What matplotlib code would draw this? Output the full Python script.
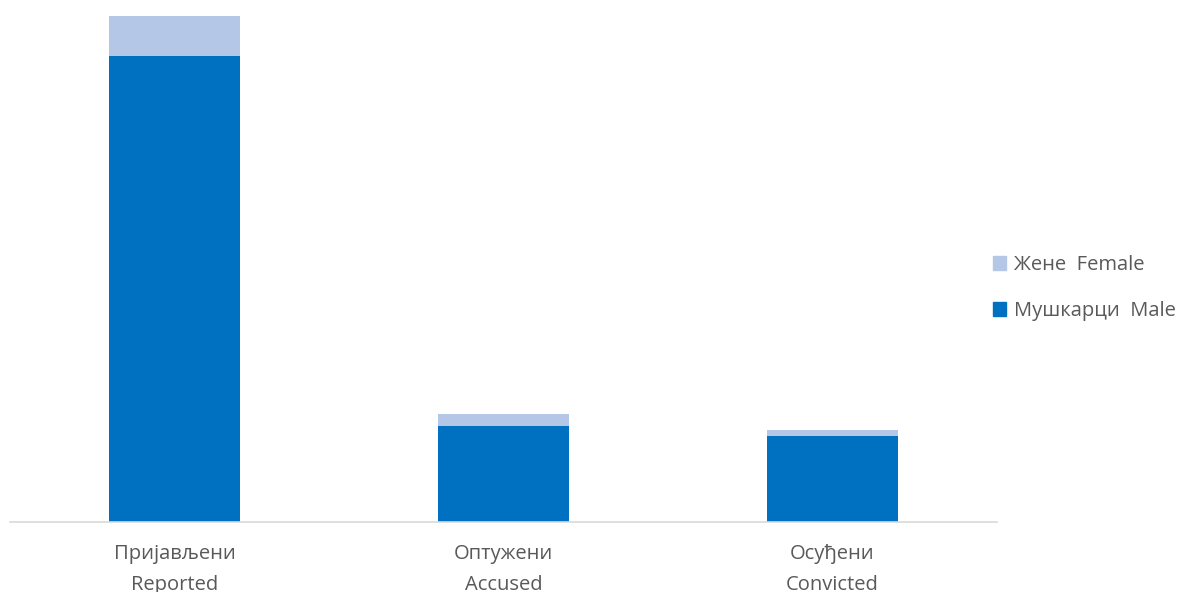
import matplotlib.pyplot as plt
from matplotlib.patches import Patch

plt.rcParams['font.family'] = ['Open Sans', 'DejaVu Sans']

# подаци (процењено са слике)
categories = ['Пријављени\nReported', 'Оптужени\nAccused', 'Осуђени\nConvicted']
male = [465, 96, 86]
female = [40, 12, 6]

male_color = '#0070C0'
female_color = '#B4C7E7'
text_color = '#595959'

fig = plt.figure(figsize=(11.83, 5.92), dpi=100)
ax = fig.add_axes([10 / 1183, (592 - 522) / 592, 987 / 1183, (522 - 16) / 592])

x = range(len(categories))
ax.bar(x, male, width=0.4, color=male_color)
ax.bar(x, female, width=0.4, bottom=male, color=female_color)

ax.set_xlim(-0.5, len(categories) - 0.5)
ax.set_ylim(0, max(m + f for m, f in zip(male, female)))
ax.set_xticks(list(x))
ax.set_xticklabels(categories, fontsize=14.5, color=text_color, linespacing=1.75)
ax.tick_params(axis='x', length=0, pad=16)
ax.set_yticks([])
for s in ['top', 'right', 'left']:
    ax.spines[s].set_visible(False)
ax.spines['bottom'].set_color('#D9D9D9')
ax.spines['bottom'].set_linewidth(1.2)

handles = [Patch(color=female_color, label='Жене  Female'),
           Patch(color=male_color, label='Мушкарци  Male')]
fig.legend(handles=handles, loc='center left', bbox_to_anchor=(993 / 1183, 1 - 288 / 592),
           frameon=False, fontsize=14.5, labelcolor=text_color,
           handlelength=0.65, handleheight=0.65, handletextpad=0.4, labelspacing=1.3,
           borderaxespad=0, borderpad=0)

fig.savefig('out.png', dpi=100)
